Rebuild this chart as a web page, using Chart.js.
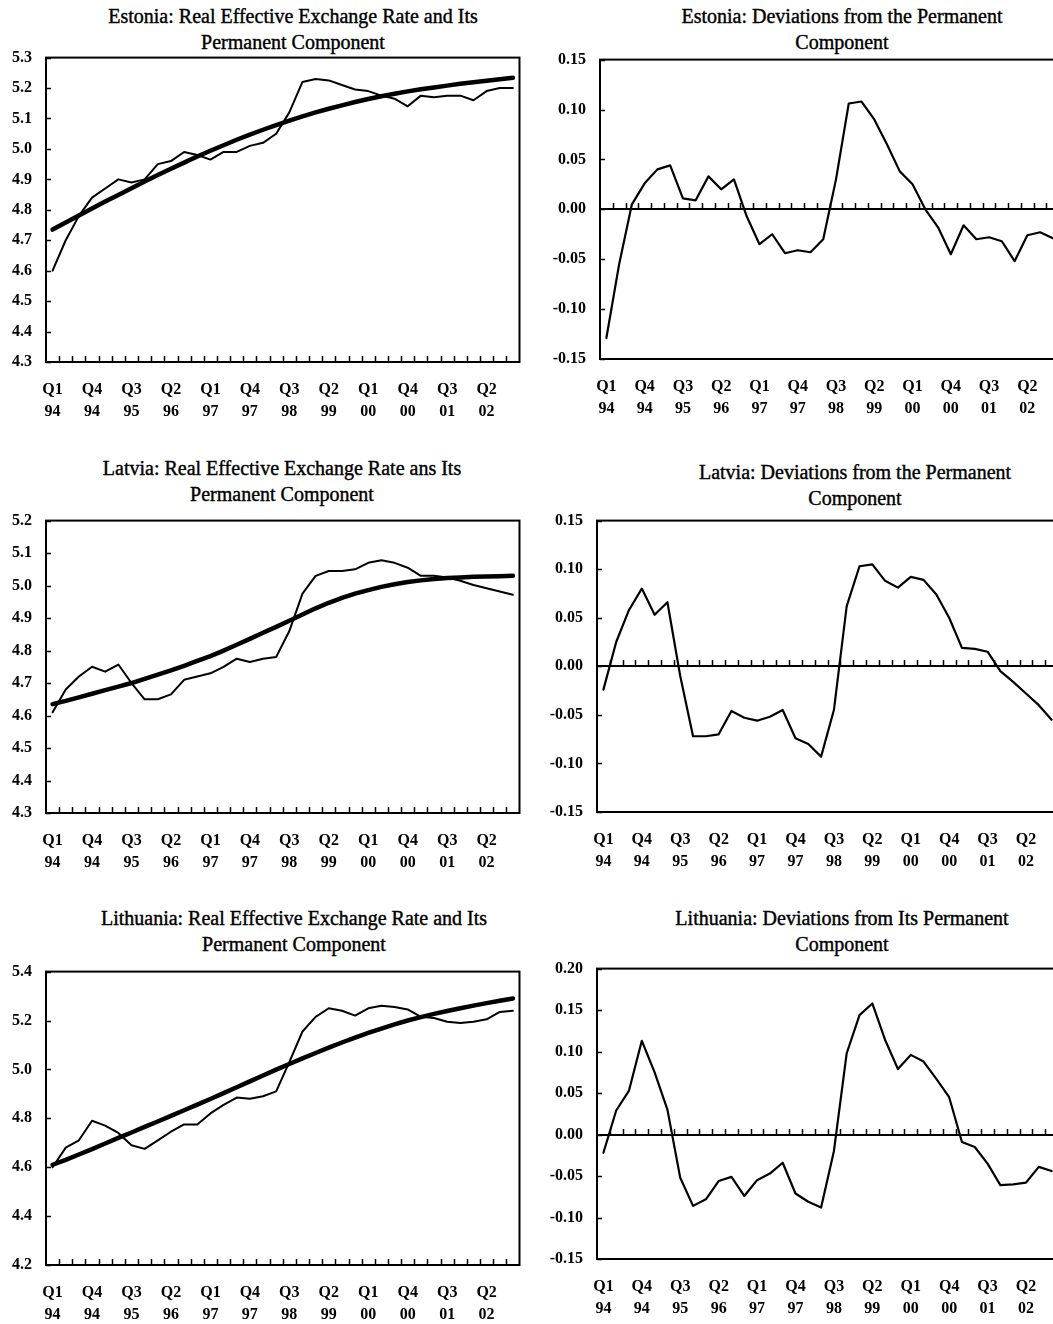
<!DOCTYPE html>
<html>
<head>
<meta charset="utf-8">
<script src="https://cdn.jsdelivr.net/npm/chart.js@4.4.0/dist/chart.umd.min.js"></script>
<style>
  html, body { margin: 0; padding: 0; background: #fff; overflow: hidden; }
  body { width: 1053px; height: 1324px; position: relative; }
  .panel { position: absolute; }
  .title {
    position: absolute; transform: translateX(-50%);
    font-family: "Liberation Serif", "Times New Roman", serif; font-size: 20px;
    line-height: 26px; color: #000; text-align: center; white-space: nowrap;
    -webkit-text-stroke: 0.4px #000;
  }
</style>
</head>
<body>

<div class="title" style="left:293px;top:3px">Estonia: Real Effective Exchange Rate and Its<br>Permanent Component</div>
<div class="title" style="left:842px;top:3px">Estonia: Deviations from the Permanent<br>Component</div>
<div class="title" style="left:282px;top:455px">Latvia: Real Effective Exchange Rate ans Its<br>Permanent Component</div>
<div class="title" style="left:855px;top:459px">Latvia: Deviations from the Permanent<br>Component</div>
<div class="title" style="left:294px;top:905px">Lithuania: Real Effective Exchange Rate and Its<br>Permanent Component</div>
<div class="title" style="left:842px;top:905px">Lithuania: Deviations from Its Permanent<br>Component</div>

<div class="panel" style="left:0px;top:34px"><canvas id="estLevel" width="530" height="388"></canvas></div>
<div class="panel" style="left:540px;top:36px"><canvas id="estDev" width="530" height="383"></canvas></div>
<div class="panel" style="left:0px;top:497px"><canvas id="latLevel" width="530" height="376"></canvas></div>
<div class="panel" style="left:537px;top:497px"><canvas id="latDev" width="533" height="375"></canvas></div>
<div class="panel" style="left:0px;top:948px"><canvas id="litLevel" width="530" height="377"></canvas></div>
<div class="panel" style="left:537px;top:945px"><canvas id="litDev" width="533" height="374"></canvas></div>

<script>
// quarters, Q1 1994 - Q4 2002
const categories = [
  'Q1 94','Q2 94','Q3 94','Q4 94','Q1 95','Q2 95','Q3 95','Q4 95','Q1 96','Q2 96','Q3 96','Q4 96',
  'Q1 97','Q2 97','Q3 97','Q4 97','Q1 98','Q2 98','Q3 98','Q4 98','Q1 99','Q2 99','Q3 99','Q4 99',
  'Q1 00','Q2 00','Q3 00','Q4 00','Q1 01','Q2 01','Q3 01','Q4 01','Q1 02','Q2 02','Q3 02','Q4 02'
];

// Estonia
const estoniaReer = [4.60, 4.70, 4.78, 4.84, 4.87, 4.90, 4.89, 4.90, 4.95, 4.96, 4.99, 4.98,
  4.965, 4.99, 4.99, 5.01, 5.02, 5.05, 5.12, 5.22, 5.23, 5.225, 5.21, 5.195,
  5.19, 5.175, 5.165, 5.14, 5.175, 5.17, 5.175, 5.175, 5.16, 5.19, 5.20, 5.20];
const estoniaPermanent = [4.735, 4.758, 4.781, 4.804, 4.827, 4.849, 4.871, 4.893, 4.914, 4.935, 4.955, 4.975,
  4.994, 5.012, 5.03, 5.047, 5.063, 5.078, 5.093, 5.107, 5.12, 5.132, 5.143, 5.154,
  5.164, 5.173, 5.181, 5.189, 5.196, 5.202, 5.208, 5.214, 5.219, 5.224, 5.229, 5.234];
const estoniaDeviation = [-0.129, -0.055, 0.005, 0.026, 0.040, 0.044, 0.011, 0.009, 0.033, 0.020, 0.030, -0.007,
  -0.035, -0.025, -0.044, -0.041, -0.043, -0.030, 0.030, 0.106, 0.108, 0.090, 0.065, 0.038,
  0.025, 0.000, -0.018, -0.045, -0.016, -0.030, -0.028, -0.032, -0.052, -0.026, -0.023, -0.029];

// Latvia
const latviaReer = [4.61, 4.68, 4.72, 4.75, 4.735, 4.757, 4.70, 4.65, 4.65, 4.665, 4.71, 4.72,
  4.73, 4.75, 4.775, 4.765, 4.775, 4.78, 4.86, 4.975, 5.03, 5.045, 5.045, 5.05,
  5.07, 5.078, 5.07, 5.055, 5.03, 5.03, 5.025, 5.015, 5.002, 4.992, 4.982, 4.972];
const latviaPermanent = [4.635, 4.645, 4.656, 4.667, 4.678, 4.689, 4.70, 4.713, 4.726, 4.739, 4.753, 4.768,
  4.783, 4.80, 4.818, 4.836, 4.855, 4.873, 4.892, 4.911, 4.93, 4.947, 4.962, 4.975,
  4.986, 4.996, 5.004, 5.011, 5.016, 5.02, 5.023, 5.025, 5.027, 5.028, 5.029, 5.03];
const latviaDeviation = [-0.024, 0.025, 0.058, 0.080, 0.053, 0.066, -0.010, -0.072, -0.072, -0.070, -0.046, -0.053,
  -0.056, -0.052, -0.045, -0.074, -0.080, -0.093, -0.045, 0.062, 0.103, 0.105, 0.088, 0.081,
  0.092, 0.089, 0.074, 0.050, 0.019, 0.018, 0.015, -0.005, -0.016, -0.028, -0.040, -0.055];

// Lithuania
const lithuaniaReer = [4.60, 4.68, 4.71, 4.79, 4.77, 4.74, 4.69, 4.675, 4.71, 4.745, 4.775, 4.775,
  4.82, 4.855, 4.885, 4.88, 4.89, 4.91, 5.03, 5.155, 5.215, 5.25, 5.24, 5.22,
  5.25, 5.26, 5.255, 5.245, 5.215, 5.21, 5.195, 5.19, 5.195, 5.205, 5.235, 5.24];
const lithuaniaPermanent = [4.61, 4.63, 4.652, 4.674, 4.697, 4.72, 4.742, 4.765, 4.787, 4.81, 4.833, 4.856,
  4.879, 4.903, 4.927, 4.951, 4.975, 4.999, 5.022, 5.045, 5.067, 5.089, 5.11, 5.13,
  5.149, 5.167, 5.184, 5.20, 5.214, 5.227, 5.239, 5.25, 5.261, 5.271, 5.281, 5.29];
const lithuaniaDeviation = [-0.022, 0.029, 0.053, 0.113, 0.075, 0.030, -0.052, -0.086, -0.078, -0.056, -0.051, -0.074,
  -0.055, -0.047, -0.034, -0.071, -0.081, -0.088, -0.020, 0.098, 0.144, 0.158, 0.114, 0.079,
  0.096, 0.088, 0.067, 0.045, -0.009, -0.015, -0.035, -0.061, -0.060, -0.058, -0.039, -0.044];

const FONT = "'Liberation Serif', 'Times New Roman', serif";

// frame round the plot, category axis with inward ticks, inward value ticks
const boxAxisPlugin = {
  id: 'boxAxis',
  afterDatasetsDraw(chart, args, opts) {
    const { ctx, chartArea: a, scales: { x, y } } = chart;
    ctx.save();
    ctx.strokeStyle = '#000';
    ctx.lineWidth = 2;
    ctx.strokeRect(a.left, a.top, a.right - a.left, a.bottom - a.top);
    const yc = Math.round(y.getPixelForValue(opts.cross));
    ctx.beginPath();
    ctx.moveTo(a.left, yc);
    ctx.lineTo(a.right, yc);
    ctx.stroke();
    ctx.lineWidth = 1.5;
    ctx.beginPath();
    for (let i = 1; i < x.ticks.length; i++) {
      const bx = Math.round((x.getPixelForTick(i - 1) + x.getPixelForTick(i)) / 2) + 0.5;
      ctx.moveTo(bx, yc);
      ctx.lineTo(bx, yc - 6);
    }
    y.ticks.forEach((t, i) => {
      const py = Math.round(y.getPixelForTick(i)) + 0.5;
      ctx.moveTo(a.left, py);
      ctx.lineTo(a.left + 5, py);
    });
    ctx.stroke();
    ctx.restore();
  }
};

function makePanel(id, { datasets, min, max, step, decimals, cross, axisWidth, padRight }) {
  const canvas = document.getElementById(id);
  return new Chart(canvas, {
    type: 'line',
    data: { labels: categories, datasets },
    plugins: [boxAxisPlugin],
    options: {
      responsive: false,
      animation: false,
      layout: { padding: { top: 12, right: padRight, left: 0, bottom: 0 } },
      elements: { point: { radius: 0 }, line: { tension: 0, borderCapStyle: 'round', borderJoinStyle: 'round' } },
      plugins: {
        legend: { display: false },
        tooltip: { enabled: false },
        boxAxis: { cross }
      },
      scales: {
        x: {
          type: 'category',
          offset: true,
          grid: { display: false, drawTicks: false },
          border: { display: false },
          ticks: {
            autoSkip: false, maxRotation: 0, padding: 17, color: '#000',
            font: { family: FONT, size: 16, weight: 'bold', lineHeight: 1.375 },
            callback(v, i) { return i % 3 === 0 ? categories[i].split(' ') : ''; }
          },
          afterFit(scale) { scale.height = 60; }
        },
        y: {
          min, max,
          grid: { display: false, drawTicks: false },
          border: { display: false },
          ticks: {
            stepSize: step, padding: 14, color: '#000',
            font: { family: FONT, size: 16, weight: 'bold' },
            callback(v) { return Number(v).toFixed(decimals); }
          },
          afterFit(scale) { scale.width = axisWidth; }
        }
      }
    }
  });
}

function levelSets(reer, perm) {
  return [
    { label: 'Real effective exchange rate', data: reer, borderColor: '#000', borderWidth: 2 },
    { label: 'Permanent component', data: perm, borderColor: '#000', borderWidth: 4.5 }
  ];
}
function devSets(dev) {
  return [{ label: 'Deviation', data: dev, borderColor: '#000', borderWidth: 2.2 }];
}

makePanel('estLevel', { datasets: levelSets(estoniaReer, estoniaPermanent), min: 4.3, max: 5.3, step: 0.1, decimals: 1, cross: 4.3, axisWidth: 46, padRight: 6 });
makePanel('estDev', { datasets: devSets(estoniaDeviation), min: -0.15, max: 0.15, step: 0.05, decimals: 2, cross: 0, axisWidth: 60, padRight: 9 });
makePanel('latLevel', { datasets: levelSets(latviaReer, latviaPermanent), min: 4.3, max: 5.2, step: 0.1, decimals: 1, cross: 4.3, axisWidth: 46, padRight: 6 });
makePanel('latDev', { datasets: devSets(latviaDeviation), min: -0.15, max: 0.15, step: 0.05, decimals: 2, cross: 0, axisWidth: 60, padRight: 12 });
makePanel('litLevel', { datasets: levelSets(lithuaniaReer, lithuaniaPermanent), min: 4.2, max: 5.4, step: 0.2, decimals: 1, cross: 4.2, axisWidth: 46, padRight: 6 });
makePanel('litDev', { datasets: devSets(lithuaniaDeviation), min: -0.15, max: 0.20, step: 0.05, decimals: 2, cross: 0, axisWidth: 60, padRight: 12 });
</script>
</body>
</html>
